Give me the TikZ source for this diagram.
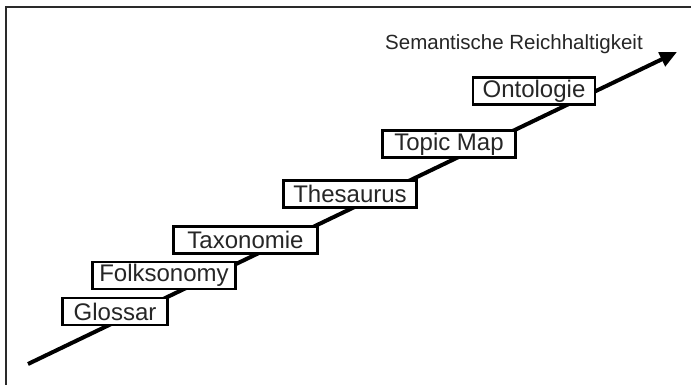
\documentclass[tikz,border=0pt]{standalone}
\usepackage{fontspec}
\setmainfont{Liberation Sans}
\usetikzlibrary{arrows.meta}
\definecolor{txt}{HTML}{262626}
\definecolor{framecol}{HTML}{2a2a2a}
\begin{document}
\begin{tikzpicture}[x=1pt,y=-1pt,
  stage/.style={draw=black, line width=2.2pt, fill=white, text=txt,
    font=\fontsize{24}{26}\selectfont, inner sep=0pt, minimum height=27pt},
  axis/.style={line width=4pt, -{Triangle[length=17pt,width=15pt]}},
  lbl/.style={text=txt, font=\fontsize{20.5}{23}\selectfont, inner sep=0pt}]
\fill[white] (0,0) rectangle (691,385);
\fill[framecol] (4.5,6.5) rectangle (6.5,385);
\fill[framecol] (4.5,6.5) rectangle (691,8.5);
\coordinate (s) at (28,364);
\coordinate (e) at (677,52);
\draw[axis] (s) -- (e);
\node[stage, minimum width=105pt] (glossar) at (115,311.5) {Glossar};
\node[stage, minimum width=143pt] (folks) at (164,275.5) {Folksonomy};
\node[stage, minimum width=144pt] (taxo) at (245.5,240) {Taxonomie};
\node[stage, minimum width=133pt] (thes) at (350,194) {Thesaurus};
\node[stage, minimum width=133pt] (topic) at (449,144) {Topic Map};
\node[stage, minimum width=122pt] (onto) at (534,91) {Ontologie};
\node[lbl] (sem) at (514,44.5) {Semantische Reichhaltigkeit};
\useasboundingbox (0,0) rectangle (691,385);
\end{tikzpicture}
\end{document}
